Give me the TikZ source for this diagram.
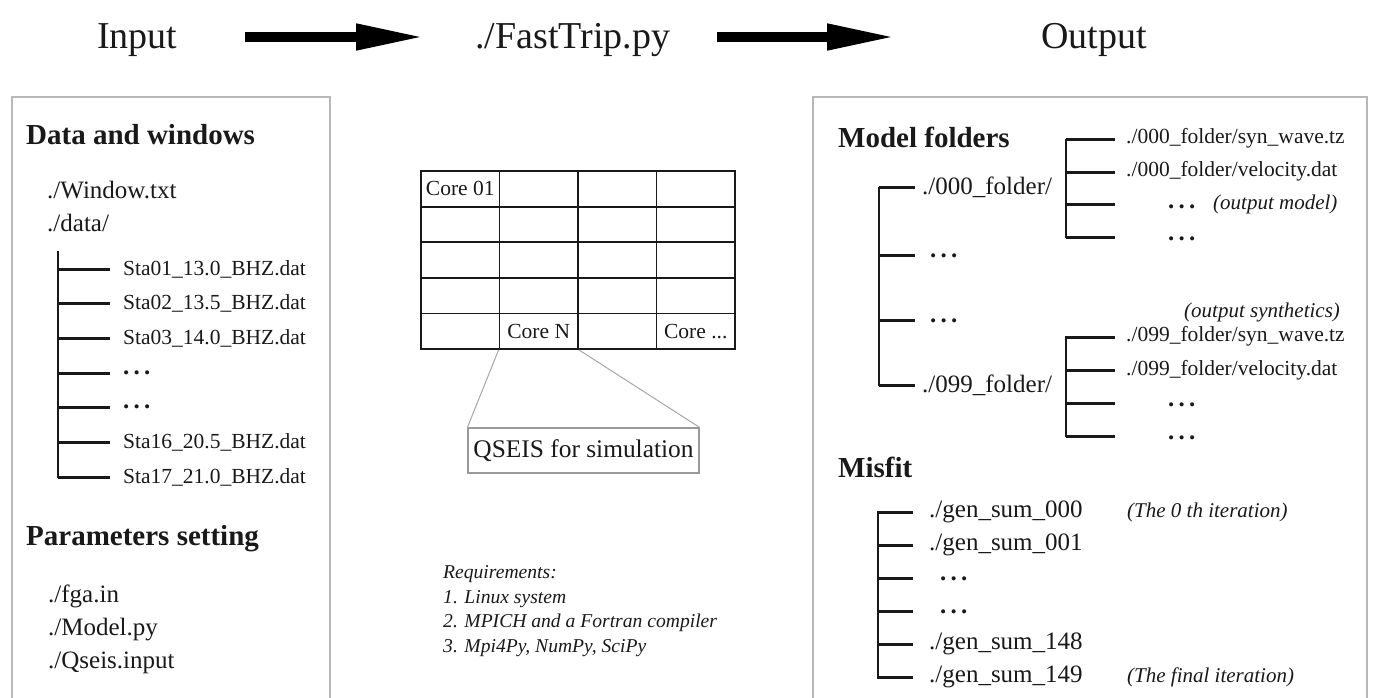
\documentclass[tikz,border=0pt]{standalone}
\usepackage{fontspec}
\setmainfont{Liberation Serif}
\usepackage{tikz}
\usetikzlibrary{arrows.meta}

\newcommand{\threedots}{\raisebox{5pt}{\bfseries\fontsize{25}{25}\selectfont .\,.\,.}}

\begin{document}
\begin{tikzpicture}[x=1pt, y=-1pt, every node/.style={text=black!90},
    title/.style={font=\fontsize{38}{40}\selectfont, anchor=base west, inner sep=0pt},
    head/.style={font=\bfseries\fontsize{29}{32}\selectfont, anchor=base west, inner sep=0pt},
    file/.style={font=\fontsize{25}{28}\selectfont, anchor=base west, inner sep=0pt},
    leaf/.style={font=\fontsize{21.5}{24}\selectfont, anchor=base west, inner sep=0pt},
    note/.style={font=\itshape\fontsize{21}{24}\selectfont, anchor=base west, inner sep=0pt},
    req/.style={font=\itshape\fontsize{19.6}{24}\selectfont, anchor=base west, inner sep=0pt},
    panel/.style={draw=black!28, line width=1.5pt},
    vline/.style={line width=2.3pt, black!90, line cap=rect},
    branch/.style={line width=3pt, black!90},
    bigarrow/.style={line width=10.5pt, -{Triangle[length=70pt, width=24pt]}},
    cell/.style={draw=black!90, line width=1.8pt, minimum width=78.5pt, minimum height=35.6pt, inner sep=0pt},
    core/.style={font=\fontsize{21.5}{24}\selectfont, inner sep=0pt},
    zoomline/.style={draw=black!35, line width=1pt},
  ]
    \useasboundingbox (0,0) rectangle (1377,698);

    % Title row
    \node[title] (input) at (97,49) {Input};
    \node[title] (fasttrip) at (475,49) {./FastTrip.py};
    \node[title] (output) at (1041,49) {Output};
    \coordinate (a1s) at (245,37);
    \coordinate (a1e) at (426,37);
    \coordinate (a2s) at (717,37);
    \coordinate (a2e) at (897,37);
    \draw[bigarrow] (a1s) -- (a1e);
    \draw[bigarrow] (a2s) -- (a2e);

    % Panels
    \draw[panel] (12,698) |- (330,97) -- (330,698);
    \draw[panel] (813,698) |- (1367,97) -- (1367,698);

    % Input panel
    \node[head] (dataw) at (26,145) {Data and windows};
    \node[file] (window) at (47,198) {./Window.txt};
    \node[file] (data) at (47,231) {./data/};
    \coordinate (dtop) at (58,252);
    \coordinate (dend) at (110,0);
    \foreach \txt [count=\i] in {Sta01\_13.0\_BHZ.dat, Sta02\_13.5\_BHZ.dat, Sta03\_14.0\_BHZ.dat,
        \threedots, \threedots, Sta16\_20.5\_BHZ.dat, Sta17\_21.0\_BHZ.dat}{
      \coordinate (dj\i) at (58,{234.3+34.7*\i});
      \node[leaf] (sta\i) at (123,{240.3+34.7*\i}) {\txt};
      \draw[branch] (dj\i) -- (dj\i -| dend);
    }
    \draw[vline] (dtop) -- (dj7);
    \node[head] (params) at (26,545) {Parameters setting};
    \node[file] (fga) at (48,602) {./fga.in};
    \node[file] (modelpy) at (48,635) {./Model.py};
    \node[file] (qseisin) at (48,668) {./Qseis.input};

    % Cores
    \foreach \r in {1,...,5}{
      \foreach \c in {1,...,4}{
        \node[cell] (cell\r\c) at ({421+78.5*(\c-0.5)},{171+35.6*(\r-0.5)}) {};
      }
    }
    \node[core] (core01) at (cell11) {Core 01};
    \node[core] (coreN) at (cell52) {Core N};
    \node[core] (coremore) at (cell54) {Core ...};
    \node[draw=black!40, line width=1.2pt, minimum width=231pt, minimum height=45pt,
      font=\fontsize{25.4}{28}\selectfont, inner sep=0pt] (qseis) at (583.5,450.5) {QSEIS for simulation};
    \draw[zoomline] (cell52.south west) -- (qseis.north west);
    \draw[zoomline] (cell52.south east) -- (qseis.north east);
    \node[req] (req0) at (443,578) {Requirements:};
    \node[req] (req1) at (443,603) {1. Linux system};
    \node[req] (req2) at (443,627) {2. MPICH and a Fortran compiler};
    \node[req] (req3) at (443,652) {3. Mpi4Py, NumPy, SciPy};

    % Output panel: model folders
    \node[head] (modelf) at (838,148) {Model folders};
    \coordinate (mend) at (915,0);
    \foreach \y [count=\i] in {188,255,320,385}{
      \coordinate (mj\i) at (879,\y);
      \draw[branch] (mj\i) -- (mj\i -| mend);
    }
    \draw[vline] (mj1) -- (mj4);
    \node[file] (f000) at (922,195) {./000\_folder/};
    \node[file] (mdots1) at (930,262) {\threedots};
    \node[file] (mdots2) at (930,327) {\threedots};
    \node[file] (f099) at (922,392) {./099\_folder/};

    % sub folders
    \coordinate (send) at (1115,0);
    \foreach \y [count=\i] in {140,172.3,204.6,237}{
      \coordinate (sa\i) at (1066,\y);
      \draw[branch] (sa\i) -- (sa\i -| send);
    }
    \draw[vline] (sa1) -- (sa4);
    \foreach \y [count=\i] in {337,370,403,436}{
      \coordinate (sb\i) at (1066,\y);
      \draw[branch] (sb\i) -- (sb\i -| send);
    }
    \draw[vline] (sb1) -- (sb4);
    \node[leaf] (syn000) at (1126,144) {./000\_folder/syn\_wave.tz};
    \node[leaf] (vel000) at (1126,177) {./000\_folder/velocity.dat};
    \node[leaf] (sadots1) at (1168,213) {\threedots};
    \node[leaf] (sadots2) at (1168,245) {\threedots};
    \node[note] (outmodel) at (1213,209) {(output model)};
    \node[note] (outsyn) at (1184,317) {(output synthetics)};
    \node[leaf] (syn099) at (1126,341) {./099\_folder/syn\_wave.tz};
    \node[leaf] (vel099) at (1126,375) {./099\_folder/velocity.dat};
    \node[leaf] (sbdots1) at (1168,411) {\threedots};
    \node[leaf] (sbdots2) at (1168,444) {\threedots};

    % Output panel: misfit
    \node[head] (misfit) at (838,477) {Misfit};
    \coordinate (gend) at (913,0);
    \foreach \y [count=\i] in {512,545.1,578.2,611.3,644.4,677.5}{
      \coordinate (gj\i) at (878,\y);
      \draw[branch] (gj\i) -- (gj\i -| gend);
    }
    \draw[vline] (gj1) -- (gj6);
    \node[file] (g000) at (929,517) {./gen\_sum\_000};
    \node[file] (g001) at (929,550) {./gen\_sum\_001};
    \node[file] (gdots1) at (940,585) {\threedots};
    \node[file] (gdots2) at (940,618) {\threedots};
    \node[file] (g148) at (929,649.5) {./gen\_sum\_148};
    \node[file] (g149) at (929,682.5) {./gen\_sum\_149};
    \node[note] (it0) at (1127,517) {(The 0 th iteration)};
    \node[note] (itN) at (1127,682) {(The final iteration)};
\end{tikzpicture}
\end{document}
